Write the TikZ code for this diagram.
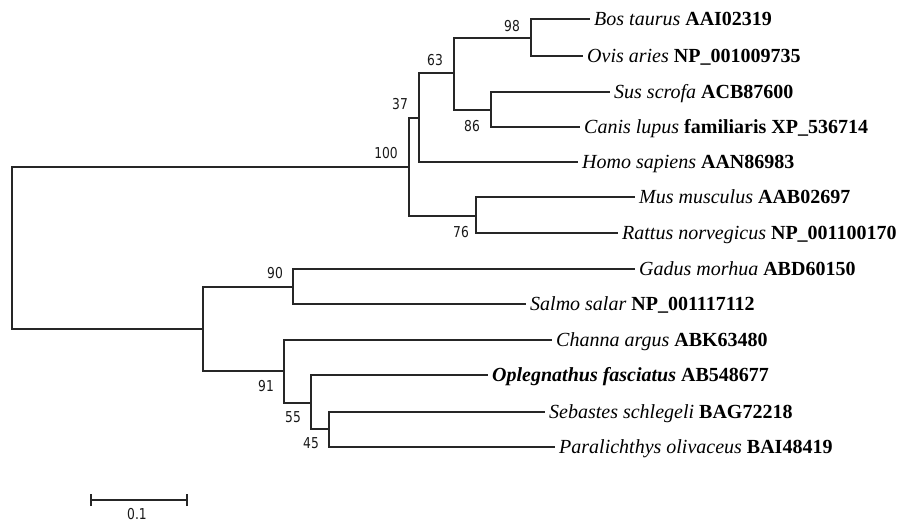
\documentclass[tikz,border=0pt]{standalone}
\usepackage{fontspec}
\setmainfont{Liberation Serif}
\newfontfamily\bsfont[FakeStretch=0.82]{DejaVu Sans}
\begin{document}
\begin{tikzpicture}[x=1pt,y=-1pt,
  branch/.style={line width=1.5pt,draw=black!85},
  leaf/.style={anchor=base west,inner sep=0pt,font=\fontsize{20}{22}\selectfont,yshift=-6.6pt},
  boot/.style={inner sep=0pt,font=\bsfont\fontsize{15}{17}\selectfont,text=black!90}]
\useasboundingbox (0,0) rectangle (905,522);
% internal nodes
\coordinate (root) at (12,248);
\coordinate (n100) at (409,167);
\coordinate (n37) at (419,118);
\coordinate (n63) at (454,73);
\coordinate (n98) at (531,38);
\coordinate (n86) at (491,110);
\coordinate (n76) at (476,216);
\coordinate (fish) at (203,329);
\coordinate (n90) at (293,287);
\coordinate (n91) at (284,371);
\coordinate (n55) at (311,403);
\coordinate (n45) at (329,429);
% leaves
\coordinate (bos) at (590,19);
\coordinate (ovis) at (583,56);
\coordinate (sus) at (610,92);
\coordinate (canis) at (580,127);
\coordinate (homo) at (578,162);
\coordinate (mus) at (635,197);
\coordinate (rattus) at (618,233);
\coordinate (gadus) at (635,269);
\coordinate (salmo) at (526,304);
\coordinate (channa) at (552,340);
\coordinate (opleg) at (488,375);
\coordinate (seb) at (545,412);
\coordinate (para) at (555,447);
% branches
\draw[branch] (root) |- (n100);
\draw[branch] (root) |- (fish);
\draw[branch] (n100) |- (n37);
\draw[branch] (n100) |- (n76);
\draw[branch] (n37) |- (n63);
\draw[branch] (n37) |- (homo);
\draw[branch] (n63) |- (n98);
\draw[branch] (n63) |- (n86);
\draw[branch] (n98) |- (bos);
\draw[branch] (n98) |- (ovis);
\draw[branch] (n86) |- (sus);
\draw[branch] (n86) |- (canis);
\draw[branch] (n76) |- (mus);
\draw[branch] (n76) |- (rattus);
\draw[branch] (fish) |- (n90);
\draw[branch] (fish) |- (n91);
\draw[branch] (n90) |- (gadus);
\draw[branch] (n90) |- (salmo);
\draw[branch] (n91) |- (channa);
\draw[branch] (n91) |- (n55);
\draw[branch] (n55) |- (opleg);
\draw[branch] (n55) |- (n45);
\draw[branch] (n45) |- (seb);
\draw[branch] (n45) |- (para);
% leaf labels
\node[leaf] (tbos) at ([xshift=4pt]bos) {\textit{Bos taurus} \textbf{AAI02319}};
\node[leaf] (tovis) at ([xshift=4pt]ovis) {\textit{Ovis aries} \textbf{NP\_001009735}};
\node[leaf] (tsus) at ([xshift=4pt]sus) {\textit{Sus scrofa} \textbf{ACB87600}};
\node[leaf] (tcanis) at ([xshift=4pt]canis) {\textit{Canis lupus} \textbf{familiaris XP\_536714}};
\node[leaf] (thomo) at ([xshift=4pt]homo) {\textit{Homo sapiens} \textbf{AAN86983}};
\node[leaf] (tmus) at ([xshift=4pt]mus) {\textit{Mus musculus} \textbf{AAB02697}};
\node[leaf] (trattus) at ([xshift=4pt]rattus) {\textit{Rattus norvegicus} \textbf{NP\_001100170}};
\node[leaf] (tgadus) at ([xshift=4pt]gadus) {\textit{Gadus morhua} \textbf{ABD60150}};
\node[leaf] (tsalmo) at ([xshift=4pt]salmo) {\textit{Salmo salar} \textbf{NP\_001117112}};
\node[leaf] (tchanna) at ([xshift=4pt]channa) {\textit{Channa argus} \textbf{ABK63480}};
\node[leaf] (topleg) at ([xshift=4pt]opleg) {\textbf{\textit{Oplegnathus fasciatus} AB548677}};
\node[leaf] (tseb) at ([xshift=4pt]seb) {\textit{Sebastes schlegeli} \textbf{BAG72218}};
\node[leaf] (tpara) at ([xshift=4pt]para) {\textit{Paralichthys olivaceus} \textbf{BAI48419}};
% bootstrap values
\node[boot] (b98) at (512,26) {98};
\node[boot] (b63) at (435,60) {63};
\node[boot] (b37) at (400,104) {37};
\node[boot] (b100) at (386,153) {100};
\node[boot] (b86) at (472,126) {86};
\node[boot] (b76) at (461,232) {76};
\node[boot] (b90) at (275,273) {90};
\node[boot] (b91) at (266,386) {91};
\node[boot] (b55) at (293,417) {55};
\node[boot] (b45) at (311,443) {45};
% scale bar
\coordinate (sbl) at (91,500);
\coordinate (sbr) at (187,500);
\draw[branch] (sbl) -- (sbr);
\draw[branch] ([yshift=-6pt]sbl) -- ([yshift=6pt]sbl);
\draw[branch] ([yshift=-6pt]sbr) -- ([yshift=6pt]sbr);
\node[boot] (sblab) at (137,514) {0.1};
\end{tikzpicture}
\end{document}
